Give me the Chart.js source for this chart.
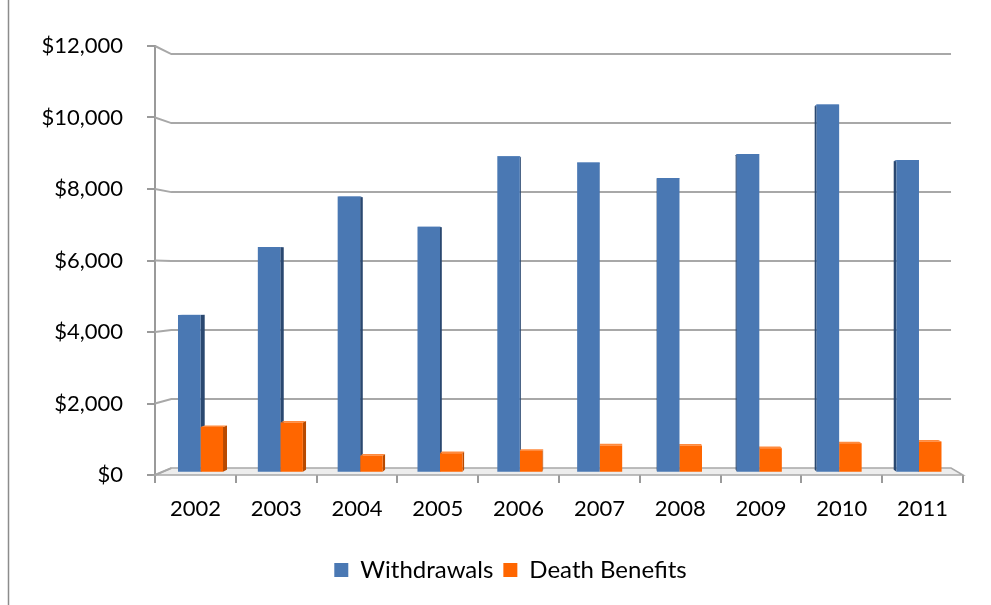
<!DOCTYPE html>
<html>
<head>
<meta charset="utf-8">
<title>Withdrawals and Death Benefits 2002-2011</title>
<script src="https://cdn.jsdelivr.net/npm/chart.js"></script>
<style>
  html, body { margin: 0; padding: 0; background: #fff; }
  #wrap { width: 991px; height: 605px; }
</style>
</head>
<body>
<div id="wrap"><canvas id="chart" width="991" height="605"></canvas></div>
<script>
const years = ['2002', '2003', '2004', '2005', '2006', '2007', '2008', '2009', '2010', '2011'];
const withdrawals = [4460, 6390, 7820, 6960, 8960, 8780, 8340, 9020, 10420, 8850];
const deathBenefits = [1290, 1420, 480, 550, 610, 770, 760, 690, 830, 880];
const yMax = 12000;
const yStep = 2000;

const blue = '#4a78b3', blueSide = '#2a4870';
const orange = '#ff6600', orangeSide = '#b84a00';
const axisColor = '#9a9a9a';
const gridColor = '#a8a8a8';

// fake 3D: the back wall and the bars shrink toward this point
const vp = { x: 621, y: 278 };
const wallDepth = 0.965;
const barDepth = 0.988;
const sideDepth = 0.99;

const depth = {
  id: 'depth',
  afterLayout(chart) {
    // legend sits a bit right of the canvas centre
    chart.legend.left += 29;
    chart.legend.right += 29;
  },
  beforeDraw(chart) {
    const ctx = chart.ctx;
    ctx.save();
    ctx.strokeStyle = '#8c8c8c';
    ctx.lineWidth = 1.5;
    ctx.beginPath();
    ctx.moveTo(8.5, 0);
    ctx.lineTo(8.5, chart.height);
    ctx.stroke();
    ctx.restore();
  },
  beforeDatasetsDraw(chart) {
    const { ctx, chartArea: a, scales: { y } } = chart;
    const bx = px => vp.x + wallDepth * (px - vp.x);
    const by = py => vp.y + wallDepth * (py - vp.y);

    ctx.save();
    // floor
    ctx.beginPath();
    ctx.moveTo(a.left, a.bottom);
    ctx.lineTo(a.right, a.bottom);
    ctx.lineTo(bx(a.right), by(a.bottom));
    ctx.lineTo(bx(a.left), by(a.bottom));
    ctx.closePath();
    ctx.fillStyle = '#ededed';
    ctx.fill();
    ctx.strokeStyle = gridColor;
    ctx.lineWidth = 1.5;
    ctx.stroke();

    // side wall diagonals and back wall gridlines
    ctx.lineWidth = 2;
    y.ticks.forEach(t => {
      const fy = y.getPixelForValue(t.value);
      ctx.beginPath();
      ctx.moveTo(a.left, fy);
      ctx.lineTo(bx(a.left), by(fy));
      if (t.value !== 0) ctx.lineTo(bx(a.right), by(fy));
      ctx.stroke();
    });

    // bars sit a little behind the front edge
    ctx.translate(vp.x, vp.y);
    ctx.scale(barDepth, barDepth);
    ctx.translate(-vp.x, -vp.y);

    // side and top faces go underneath the bar fronts
    chart.data.datasets.forEach((ds, i) => {
      chart.getDatasetMeta(i).data.forEach(bar => {
        const p = bar.getProps(['x', 'y', 'base', 'width'], true);
        const x0 = p.x - p.width / 2, x1 = p.x + p.width / 2;
        const edge = p.x < vp.x ? x1 : x0;
        const back = v => vp.x + sideDepth * (v - vp.x);
        const backY = v => vp.y + sideDepth * (v - vp.y);
        ctx.fillStyle = ds.sideColor;
        ctx.beginPath();
        ctx.moveTo(edge, p.y);
        ctx.lineTo(back(edge), backY(p.y));
        ctx.lineTo(back(edge), backY(p.base));
        ctx.lineTo(edge, p.base);
        ctx.closePath();
        ctx.fill();
        ctx.fillStyle = ds.topColor;
        ctx.beginPath();
        ctx.moveTo(x0, p.y);
        ctx.lineTo(x1, p.y);
        ctx.lineTo(back(x1), backY(p.y));
        ctx.lineTo(back(x0), backY(p.y));
        ctx.closePath();
        ctx.fill();
      });
    });
  },
  afterDatasetsDraw(chart) {
    chart.ctx.restore();
  }
};

Chart.defaults.font.family = 'Lato, "Open Sans", sans-serif';
Chart.defaults.color = '#000';

new Chart(document.getElementById('chart'), {
  type: 'bar',
  data: {
    labels: years,
    datasets: [
      {
        label: 'Withdrawals',
        data: withdrawals,
        backgroundColor: blue,
        sideColor: blueSide,
        topColor: '#6e95c8'
      },
      {
        label: 'Death Benefits',
        data: deathBenefits,
        backgroundColor: orange,
        sideColor: orangeSide,
        topColor: '#ff8a3d'
      }
    ]
  },
  options: {
    responsive: false,
    animation: false,
    categoryPercentage: 0.564,
    barPercentage: 1,
    layout: { padding: { top: 46, right: 28, left: 0, bottom: 13 } },
    plugins: {
      tooltip: { enabled: false },
      legend: {
        position: 'bottom',
        labels: {
          boxWidth: 14,
          boxHeight: 14,
          padding: 10,
          font: { size: 24 }
        }
      }
    },
    scales: {
      x: {
        grid: { drawOnChartArea: false, tickLength: 8, color: axisColor, lineWidth: 2 },
        border: { display: false },
        ticks: { font: { size: 22 }, padding: 13, maxRotation: 0 },
        afterFit: s => { s.height = 73; }
      },
      y: {
        min: 0,
        max: yMax,
        grid: { drawOnChartArea: false, tickLength: 8, color: axisColor, lineWidth: 2 },
        border: { color: axisColor, width: 2 },
        ticks: {
          stepSize: yStep,
          padding: 24,
          font: { size: 22 },
          callback: v => '$' + v.toLocaleString('en-US')
        },
        afterFit: s => { s.width = 155; }
      }
    }
  },
  plugins: [depth]
});
</script>
</body>
</html>
